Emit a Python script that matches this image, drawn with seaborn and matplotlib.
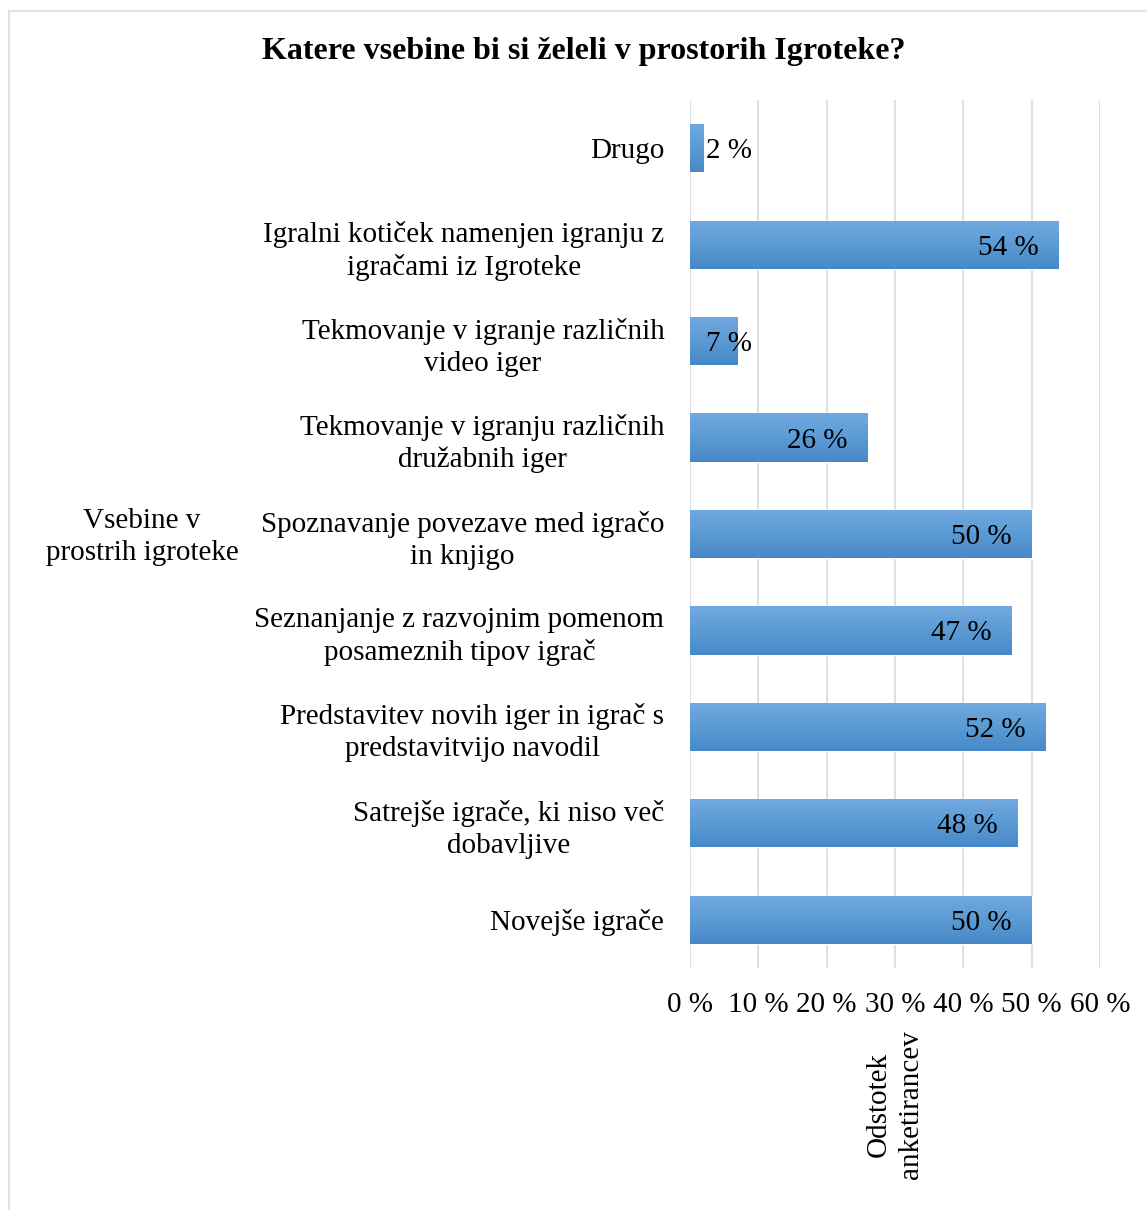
import numpy as np
import pandas as pd
import seaborn as sns
import matplotlib
matplotlib.use("Agg")
import matplotlib.pyplot as plt
from matplotlib.colors import LinearSegmentedColormap
from matplotlib.lines import Line2D

# ---------------- data ----------------
categories = [
    "Drugo",
    "Igralni kotiček namenjen igranju z\nigračami iz Igroteke",
    "Tekmovanje v igranje različnih\nvideo iger",
    "Tekmovanje v igranju različnih\ndružabnih iger",
    "Spoznavanje povezave med igračo\nin knjigo",
    "Seznanjanje z razvojnim pomenom\nposameznih tipov igrač",
    "Predstavitev novih iger in igrač s\npredstavitvijo navodil",
    "Satrejše igrače, ki niso več\ndobavljive",
    "Novejše igrače",
]
values = [2, 54, 7, 26, 50, 47, 52, 48, 50]
value_labels = ["2 %", "54 %", "7 %", "26 %", "50 %", "47 %", "52 %", "48 %", "50 %"]
x_ticks = [0, 10, 20, 30, 40, 50, 60]
x_tick_labels = ["0 %", "10 %", "20 %", "30 %", "40 %", "50 %", "60 %"]
title = "Katere vsebine bi si želeli v prostorih Igroteke?"
y_title = "Vsebine v\nprostrih igroteke"
x_title = "Odstotek\nanketirancev"

# ---------------- style ----------------
sns.set_theme(style="white")
plt.rcParams["font.family"] = ["Liberation Serif", "DejaVu Serif"]
FS = 21
LS = 1.3

W, H = 1147, 1210
fig = plt.figure(figsize=(W / 100, H / 100), dpi=100)
fig.patch.set_facecolor("white")

ax_l, ax_r, ax_t, ax_b = 690, 1100, 100, 968
ax = fig.add_axes([ax_l / W, 1 - ax_b / H, (ax_r - ax_l) / W, (ax_b - ax_t) / H])

df = pd.DataFrame({"cat": categories, "val": values})
sns.barplot(data=df, y="cat", x="val", orient="h", color="#5B9BD5",
            saturation=1, width=0.5, ax=ax, zorder=2)

# gradient fill on bars
cmap = LinearSegmentedColormap.from_list("bar", ["#71A9DF", "#5B9BD5", "#4788C8"])
grad = np.linspace(0, 1, 64).reshape(-1, 1)
for p in list(ax.patches):
    x0, y0, w, h = p.get_x(), p.get_y(), p.get_width(), p.get_height()
    im = ax.imshow(grad, extent=[x0, x0 + w, y0 + h, y0], origin="upper",
                   aspect="auto", cmap=cmap, zorder=3, interpolation="bilinear")
    im.set_clip_path(p)

ax.set_xlim(0, 60)
ax.set_ylim(8.5, -0.5)

# value labels
for i, (v, lab) in enumerate(zip(values, value_labels)):
    if v < 10:
        ax.text(2.3, i, lab, ha="left", va="center_baseline", fontsize=FS,
                color="black", zorder=4)
    else:
        ax.text(v - 2.9, i, lab, ha="right", va="center_baseline", fontsize=FS,
                color="black", zorder=4)

# axes styling
for s in ax.spines.values():
    s.set_visible(False)
ax.grid(axis="x", color="#DCE0E8", linewidth=1.5)
ax.grid(axis="y", visible=False)
ax.set_axisbelow(True)

ax.set_xticks(x_ticks)
ax.set_xticklabels(x_tick_labels, fontsize=FS)
ax.set_yticks(range(len(categories)))
ax.set_yticklabels(categories, fontsize=FS)
for t in ax.get_yticklabels():
    t.set_multialignment("center")
    t.set_linespacing(LS)
ax.tick_params(axis="y", length=0, pad=18.5, colors="black")
ax.tick_params(axis="x", length=0, pad=17, colors="black")

ax.set_xlabel(x_title, fontsize=FS, rotation=90, labelpad=9, color="black",
              multialignment="center", linespacing=LS)
ax.set_ylabel(y_title, fontsize=FS, rotation=0, ha="center", va="center",
              multialignment="center", color="black", linespacing=LS)
ax.yaxis.set_label_coords((142 - ax_l) / (ax_r - ax_l), 0.5 - 3 / (ax_b - ax_t))

fig.text(584 / W, 1 - 51 / H, title, ha="center", va="center",
         fontsize=23, fontweight="bold", color="black")

# chart-area border (left and top visible)
bc = "#DDE1E8"
fig.add_artist(Line2D([8.5 / W, 8.5 / W], [0, 1 - 10.5 / H], transform=fig.transFigure,
                      color=bc, linewidth=1.5))
fig.add_artist(Line2D([8.5 / W, 1], [1 - 10.5 / H, 1 - 10.5 / H], transform=fig.transFigure,
                      color=bc, linewidth=1.5))

fig.savefig("out.png", dpi=100)
